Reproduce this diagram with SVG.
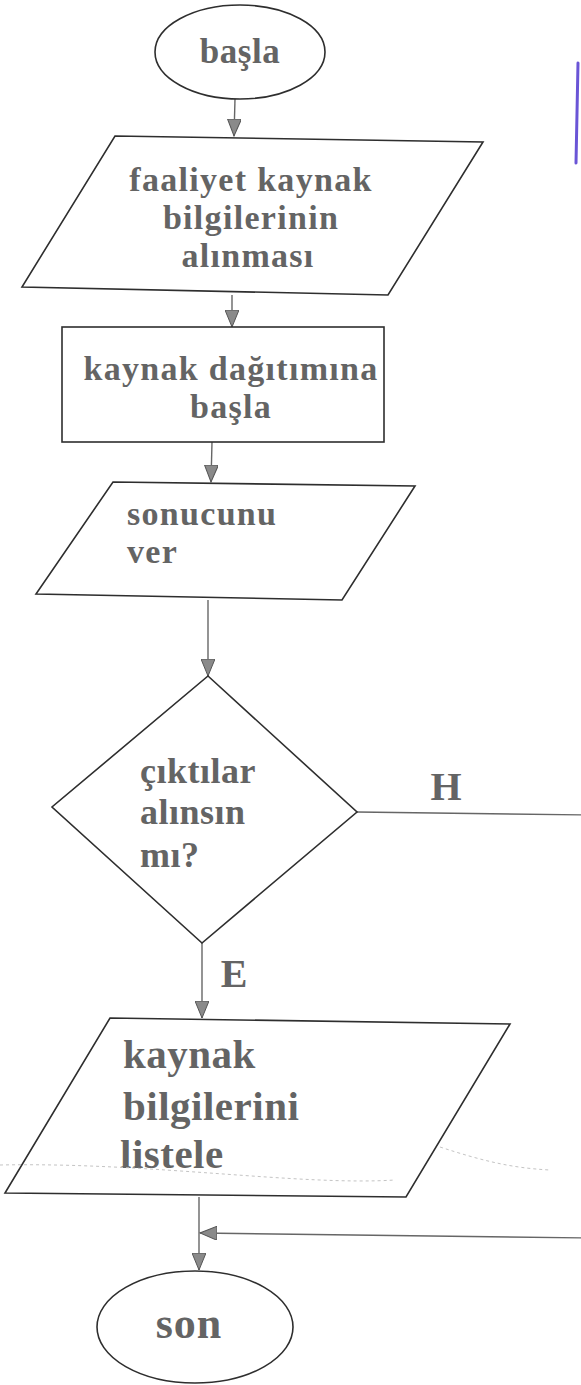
<svg xmlns="http://www.w3.org/2000/svg" width="581" height="1385" viewBox="0 0 581 1385">
  <style>
    .shape { fill: #ffffff; stroke: #2e2e2e; stroke-width: 1.6; }
    .conn { fill: none; stroke: #666666; stroke-width: 1.4; }
    .lbl { font-family: "Liberation Serif", "Times New Roman", serif; font-weight: bold; fill: #646464; font-size: 34px; letter-spacing: 1.3px; }
    .mid { text-anchor: middle; }
    .faint { fill: none; stroke: #c4c4c4; stroke-width: 1; stroke-dasharray: 3 3; }
  </style>
  <defs>
    <marker id="arrow" markerUnits="userSpaceOnUse" markerWidth="18" markerHeight="14" refX="17" refY="7" orient="auto" viewBox="0 0 18 14">
      <path d="M0,0 L17,7 L0,14 z" fill="#8a8a8a" stroke="#555555" stroke-width="1"/>
    </marker>
  </defs>
  <rect width="581" height="1385" fill="#ffffff"/>

  <g id="connectors">
    <path class="conn" d="M235,99 L234,136" marker-end="url(#arrow)"/>
    <path class="conn" d="M232,295 L232,327" marker-end="url(#arrow)"/>
    <path class="conn" d="M212,442 L211,482" marker-end="url(#arrow)"/>
    <path class="conn" d="M208,600 L208,676" marker-end="url(#arrow)"/>
    <path class="conn" d="M202,943 L202,1018" marker-end="url(#arrow)"/>
    <path class="conn" d="M199,1197 L199,1270" marker-end="url(#arrow)"/>
    <path class="conn" d="M357,812 L592,815 L592,1238 L200,1233" marker-end="url(#arrow)"/>
    <text class="lbl mid" style="font-size:40px;letter-spacing:0" x="446" y="800">H</text>
    <text class="lbl mid" style="font-size:40px;letter-spacing:0" x="234" y="987">E</text>
  </g>

  <g id="start">
    <ellipse class="shape" cx="240" cy="52" rx="85" ry="47"/>
    <text class="lbl mid" style="font-size:35px;letter-spacing:0.5px" x="240" y="63">başla</text>
  </g>

  <g id="input-activity">
    <polygon class="shape" points="115,136 483,142 388,295 22,287"/>
    <text class="lbl mid" x="251" y="191">faaliyet kaynak</text>
    <text class="lbl mid" x="251" y="229">bilgilerinin</text>
    <text class="lbl mid" x="248" y="267">alınması</text>
  </g>

  <g id="process-distribute">
    <rect class="shape" x="62" y="327" width="322" height="115"/>
    <text class="lbl mid" x="231" y="380">kaynak dağıtımına</text>
    <text class="lbl mid" x="231" y="418">başla</text>
  </g>

  <g id="output-result">
    <polygon class="shape" points="113,482 415,486 342,600 36,594"/>
    <text class="lbl" x="127" y="525">sonucunu</text>
    <text class="lbl" x="127" y="563">ver</text>
  </g>

  <g id="decision">
    <polygon class="shape" points="208,676 357,812 202,943 52,807"/>
    <text class="lbl" style="font-size:36px;letter-spacing:0.5px" x="140" y="783">çıktılar</text>
    <text class="lbl" style="font-size:36px;letter-spacing:0.5px" x="140" y="824">alınsın</text>
    <text class="lbl" style="font-size:36px;letter-spacing:0.5px" x="140" y="867">mı?</text>
  </g>

  <g id="output-list">
    <polygon class="shape" points="110,1018 510,1024 406,1197 5,1193"/>
    <text class="lbl" style="font-size:41px;letter-spacing:0.5px" x="123" y="1068">kaynak</text>
    <text class="lbl" style="font-size:41px;letter-spacing:0.5px" x="123" y="1120">bilgilerini</text>
    <text class="lbl" style="font-size:41px;letter-spacing:0.5px" x="120" y="1168">listele</text>
  </g>

  <g id="end">
    <ellipse class="shape" cx="195" cy="1327" rx="98" ry="56"/>
    <text class="lbl mid" style="font-size:44px;letter-spacing:1px" x="189" y="1338">son</text>
  </g>

  <g id="scan-marks">
    <path d="M578,63 L576,163" fill="none" stroke="#6a55d6" stroke-width="3" stroke-linecap="round"/>
    <path class="faint" d="M0,1165 C150,1162 300,1186 395,1180"/>
    <path class="faint" d="M440,1147 C480,1160 510,1168 550,1170"/>
  </g>
</svg>
